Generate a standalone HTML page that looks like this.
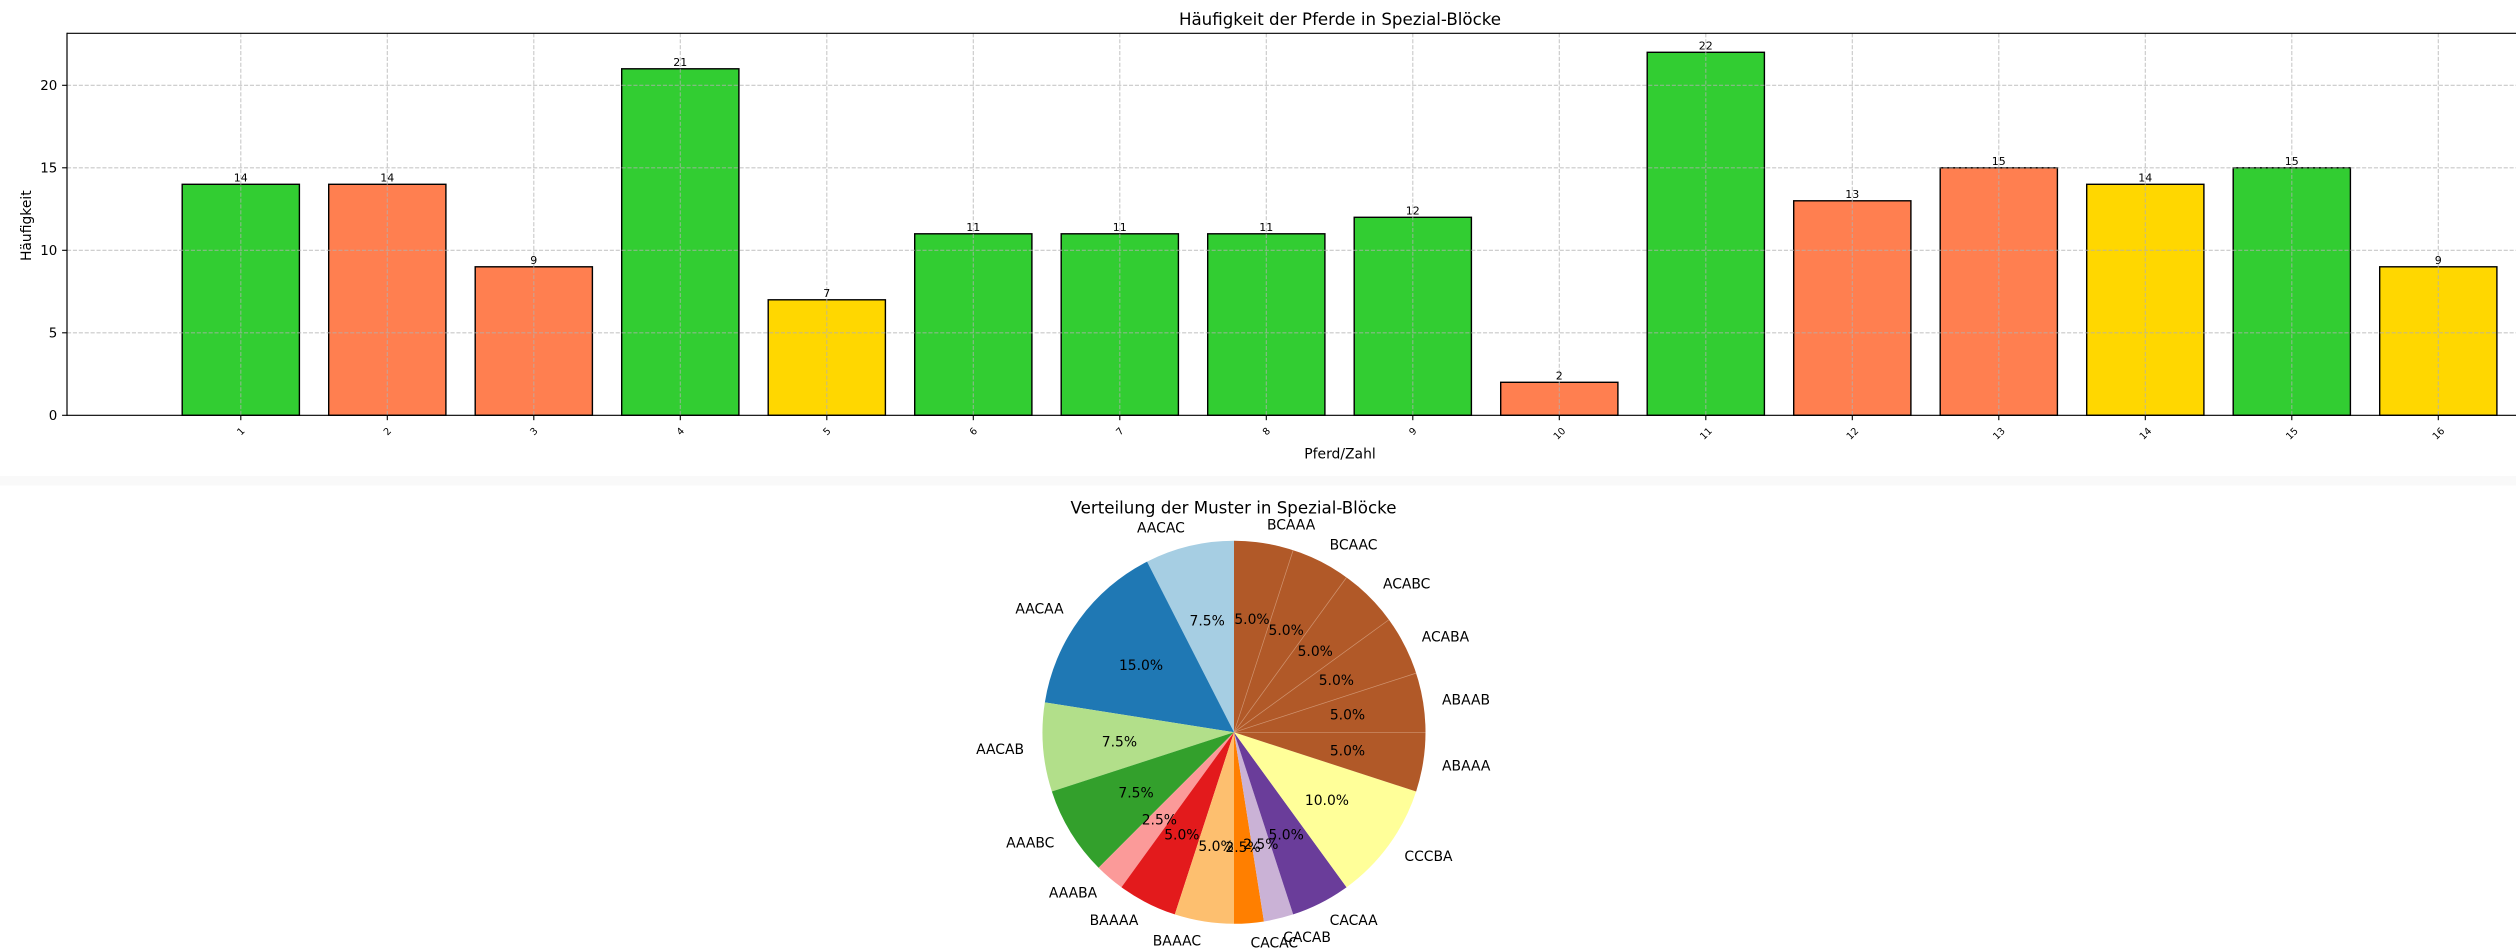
<!DOCTYPE html>
<html>
<head>
<meta charset="utf-8">
<style>
html,body{margin:0;padding:0;background:#fff;}
svg{display:block;}
text{font-family:"DejaVu Sans","Liberation Sans",sans-serif;fill:#000;}
</style>
</head>
<body>
<svg width="2516" height="952" viewBox="0 0 2516 952" xmlns="http://www.w3.org/2000/svg">
<rect x="0" y="0" width="2516" height="952" fill="#fff"/>
<rect x="0" y="476" width="2516" height="9.5" fill="#f9f9f9"/>

<!-- Bar chart title -->
<text x="1340" y="24.8" font-size="16.67" text-anchor="middle">Häufigkeit der Pferde in Spezial-Blöcke</text>

<!-- Bars -->
<g stroke="#000" stroke-width="1.4">
<rect x="182.2" y="184.3" width="117.2" height="231" fill="#32cd32"/>
<rect x="328.7" y="184.3" width="117.2" height="231" fill="#ff7f50"/>
<rect x="475.2" y="266.8" width="117.2" height="148.5" fill="#ff7f50"/>
<rect x="621.7" y="68.8" width="117.2" height="346.5" fill="#32cd32"/>
<rect x="768.2" y="299.8" width="117.2" height="115.5" fill="#ffd700"/>
<rect x="914.7" y="233.8" width="117.2" height="181.5" fill="#32cd32"/>
<rect x="1061.2" y="233.8" width="117.2" height="181.5" fill="#32cd32"/>
<rect x="1207.7" y="233.8" width="117.2" height="181.5" fill="#32cd32"/>
<rect x="1354.2" y="217.3" width="117.2" height="198" fill="#32cd32"/>
<rect x="1500.7" y="382.3" width="117.2" height="33" fill="#ff7f50"/>
<rect x="1647.2" y="52.3" width="117.2" height="363" fill="#32cd32"/>
<rect x="1793.7" y="200.8" width="117.2" height="214.5" fill="#ff7f50"/>
<rect x="1940.2" y="167.8" width="117.2" height="247.5" fill="#ff7f50"/>
<rect x="2086.7" y="184.3" width="117.2" height="231" fill="#ffd700"/>
<rect x="2233.2" y="167.8" width="117.2" height="247.5" fill="#32cd32"/>
<rect x="2379.7" y="266.8" width="117.2" height="148.5" fill="#ffd700"/>
</g>

<!-- Grid -->
<g stroke="#b0b0b0" stroke-opacity="0.7" stroke-width="1.1" stroke-dasharray="4.1,1.8" fill="none">
<line x1="67" y1="332.8" x2="2516" y2="332.8"/>
<line x1="67" y1="250.3" x2="2516" y2="250.3"/>
<line x1="67" y1="167.8" x2="2516" y2="167.8"/>
<line x1="67" y1="85.3" x2="2516" y2="85.3"/>
<line x1="240.8" y1="33.3" x2="240.8" y2="415.3"/>
<line x1="387.3" y1="33.3" x2="387.3" y2="415.3"/>
<line x1="533.8" y1="33.3" x2="533.8" y2="415.3"/>
<line x1="680.3" y1="33.3" x2="680.3" y2="415.3"/>
<line x1="826.8" y1="33.3" x2="826.8" y2="415.3"/>
<line x1="973.3" y1="33.3" x2="973.3" y2="415.3"/>
<line x1="1119.8" y1="33.3" x2="1119.8" y2="415.3"/>
<line x1="1266.3" y1="33.3" x2="1266.3" y2="415.3"/>
<line x1="1412.8" y1="33.3" x2="1412.8" y2="415.3"/>
<line x1="1559.3" y1="33.3" x2="1559.3" y2="415.3"/>
<line x1="1705.8" y1="33.3" x2="1705.8" y2="415.3"/>
<line x1="1852.3" y1="33.3" x2="1852.3" y2="415.3"/>
<line x1="1998.8" y1="33.3" x2="1998.8" y2="415.3"/>
<line x1="2145.3" y1="33.3" x2="2145.3" y2="415.3"/>
<line x1="2291.8" y1="33.3" x2="2291.8" y2="415.3"/>
<line x1="2438.3" y1="33.3" x2="2438.3" y2="415.3"/>
</g>

<!-- Value labels -->
<g font-size="11" text-anchor="middle">
<text x="240.8" y="181.5">14</text>
<text x="387.3" y="181.5">14</text>
<text x="533.8" y="264">9</text>
<text x="680.3" y="66">21</text>
<text x="826.8" y="297">7</text>
<text x="973.3" y="231">11</text>
<text x="1119.8" y="231">11</text>
<text x="1266.3" y="231">11</text>
<text x="1412.8" y="214.5">12</text>
<text x="1559.3" y="379.5">2</text>
<text x="1705.8" y="49.5">22</text>
<text x="1852.3" y="198">13</text>
<text x="1998.8" y="165">15</text>
<text x="2145.3" y="181.5">14</text>
<text x="2291.8" y="165">15</text>
<text x="2438.3" y="264">9</text>
</g>

<!-- Spines -->
<g stroke="#000" stroke-width="1.2" fill="none">
<line x1="67" y1="33.3" x2="2516" y2="33.3"/>
<line x1="67" y1="415.3" x2="2516" y2="415.3"/>
<line x1="67" y1="32.7" x2="67" y2="415.9"/>
</g>

<!-- Ticks -->
<g stroke="#000" stroke-width="1.1">
<line x1="62.1" y1="415.3" x2="67" y2="415.3"/>
<line x1="62.1" y1="332.8" x2="67" y2="332.8"/>
<line x1="62.1" y1="250.3" x2="67" y2="250.3"/>
<line x1="62.1" y1="167.8" x2="67" y2="167.8"/>
<line x1="62.1" y1="85.3" x2="67" y2="85.3"/>
<line x1="240.8" y1="415.3" x2="240.8" y2="420.2"/>
<line x1="387.3" y1="415.3" x2="387.3" y2="420.2"/>
<line x1="533.8" y1="415.3" x2="533.8" y2="420.2"/>
<line x1="680.3" y1="415.3" x2="680.3" y2="420.2"/>
<line x1="826.8" y1="415.3" x2="826.8" y2="420.2"/>
<line x1="973.3" y1="415.3" x2="973.3" y2="420.2"/>
<line x1="1119.8" y1="415.3" x2="1119.8" y2="420.2"/>
<line x1="1266.3" y1="415.3" x2="1266.3" y2="420.2"/>
<line x1="1412.8" y1="415.3" x2="1412.8" y2="420.2"/>
<line x1="1559.3" y1="415.3" x2="1559.3" y2="420.2"/>
<line x1="1705.8" y1="415.3" x2="1705.8" y2="420.2"/>
<line x1="1852.3" y1="415.3" x2="1852.3" y2="420.2"/>
<line x1="1998.8" y1="415.3" x2="1998.8" y2="420.2"/>
<line x1="2145.3" y1="415.3" x2="2145.3" y2="420.2"/>
<line x1="2291.8" y1="415.3" x2="2291.8" y2="420.2"/>
<line x1="2438.3" y1="415.3" x2="2438.3" y2="420.2"/>
</g>

<!-- Y tick labels -->
<g font-size="13.4" text-anchor="end">
<text x="57.3" y="420.2">0</text>
<text x="57.3" y="337.7">5</text>
<text x="57.3" y="255.2">10</text>
<text x="57.3" y="172.7">15</text>
<text x="57.3" y="90.2">20</text>
</g>

<!-- X tick labels (rotated 45) -->
<g font-size="9.7" text-anchor="middle">
<text transform="translate(240.8,431.3) rotate(-45)" y="3.4">1</text>
<text transform="translate(387.3,431.3) rotate(-45)" y="3.4">2</text>
<text transform="translate(533.8,431.3) rotate(-45)" y="3.4">3</text>
<text transform="translate(680.3,431.3) rotate(-45)" y="3.4">4</text>
<text transform="translate(826.8,431.3) rotate(-45)" y="3.4">5</text>
<text transform="translate(973.3,431.3) rotate(-45)" y="3.4">6</text>
<text transform="translate(1119.8,431.3) rotate(-45)" y="3.4">7</text>
<text transform="translate(1266.3,431.3) rotate(-45)" y="3.4">8</text>
<text transform="translate(1412.8,431.3) rotate(-45)" y="3.4">9</text>
<text transform="translate(1559.3,433.5) rotate(-45)" y="3.4">10</text>
<text transform="translate(1705.8,433.5) rotate(-45)" y="3.4">11</text>
<text transform="translate(1852.3,433.5) rotate(-45)" y="3.4">12</text>
<text transform="translate(1998.8,433.5) rotate(-45)" y="3.4">13</text>
<text transform="translate(2145.3,433.5) rotate(-45)" y="3.4">14</text>
<text transform="translate(2291.8,433.5) rotate(-45)" y="3.4">15</text>
<text transform="translate(2438.3,433.5) rotate(-45)" y="3.4">16</text>
</g>

<!-- Axis labels -->
<text x="1340" y="458.5" font-size="13.9" text-anchor="middle">Pferd/Zahl</text>
<text transform="translate(31,225.7) rotate(-90)" font-size="13.9" text-anchor="middle">Häufigkeit</text>

<!-- Pie title -->
<text x="1233.5" y="513.3" font-size="16.67" text-anchor="middle">Verteilung der Muster in Spezial-Blöcke</text>

<!-- Pie wedges -->
<g>
<path d="M1234,732.3 L1234,540.8 A191.5,191.5 0 0 0 1147.06,561.67 Z" fill="#a6cee3"/>
<path d="M1234,732.3 L1147.06,561.67 A191.5,191.5 0 0 0 1044.86,702.34 Z" fill="#1f78b4"/>
<path d="M1234,732.3 L1044.86,702.34 A191.5,191.5 0 0 0 1051.87,791.48 Z" fill="#b2df8a"/>
<path d="M1234,732.3 L1051.87,791.48 A191.5,191.5 0 0 0 1098.59,867.71 Z" fill="#33a02c"/>
<path d="M1234,732.3 L1098.59,867.71 A191.5,191.5 0 0 0 1121.44,887.23 Z" fill="#fb9a99"/>
<path d="M1234,732.3 L1121.44,887.23 A191.5,191.5 0 0 0 1174.82,914.43 Z" fill="#e31a1c"/>
<path d="M1234,732.3 L1174.82,914.43 A191.5,191.5 0 0 0 1234,923.8 Z" fill="#fdbf6f"/>
<path d="M1234,732.3 L1234,923.8 A191.5,191.5 0 0 0 1263.96,921.44 Z" fill="#ff7f00"/>
<path d="M1234,732.3 L1263.96,921.44 A191.5,191.5 0 0 0 1293.18,914.43 Z" fill="#cab2d6"/>
<path d="M1234,732.3 L1293.18,914.43 A191.5,191.5 0 0 0 1346.56,887.23 Z" fill="#6a3d9a"/>
<path d="M1234,732.3 L1346.56,887.23 A191.5,191.5 0 0 0 1416.13,791.48 Z" fill="#ffff99"/>
<path d="M1234,732.3 L1416.13,791.48 A191.5,191.5 0 0 0 1234,540.8 Z" fill="#b15928"/>
</g>
<g stroke="#d8a382" stroke-width="0.7" stroke-opacity="0.8">
<line x1="1234" y1="732.3" x2="1425.5" y2="732.3"/>
<line x1="1234" y1="732.3" x2="1416.13" y2="673.12"/>
<line x1="1234" y1="732.3" x2="1388.93" y2="619.74"/>
<line x1="1234" y1="732.3" x2="1346.56" y2="577.37"/>
<line x1="1234" y1="732.3" x2="1293.18" y2="550.17"/>
</g>

<!-- Pie percentages -->
<g font-size="13.9" text-anchor="middle">
<text x="1207.18" y="625.6">7.5%</text>
<text x="1141.04" y="669.8">15.0%</text>
<text x="1119.45" y="746.4">7.5%</text>
<text x="1136.03" y="797.4">7.5%</text>
<text x="1159.38" y="824.7">2.5%</text>
<text x="1181.84" y="839.7">5.0%</text>
<text x="1216.03" y="850.8">5.0%</text>
<text x="1243.01" y="851.9">2.5%</text>
<text x="1260.82" y="849.1">2.5%</text>
<text x="1286.16" y="839.7">5.0%</text>
<text x="1326.96" y="804.9">10.0%</text>
<text x="1347.49" y="755.3">5.0%</text>
<text x="1347.49" y="719.4">5.0%</text>
<text x="1336.38" y="685.2">5.0%</text>
<text x="1315.25" y="656.1">5.0%</text>
<text x="1286.16" y="635">5.0%</text>
<text x="1251.97" y="623.9">5.0%</text>
</g>

<!-- Pie labels -->
<g font-size="13.9">
<text x="1184.82" y="532.5" text-anchor="end">AACAC</text>
<text x="1063.58" y="613.5" text-anchor="end">AACAA</text>
<text x="1024.0" y="753.9" text-anchor="end">AACAB</text>
<text x="1054.39" y="847.4" text-anchor="end">AAABC</text>
<text x="1097.19" y="897.5" text-anchor="end">AAABA</text>
<text x="1138.37" y="925" text-anchor="end">BAAAA</text>
<text x="1201.05" y="945.4" text-anchor="end">BAAAC</text>
<text x="1250.53" y="947.3">CACAC</text>
<text x="1283.18" y="942.2">CACAB</text>
<text x="1329.63" y="925">CACAA</text>
<text x="1404.42" y="861.2">CCCBA</text>
<text x="1442.06" y="770.3">ABAAA</text>
<text x="1442.06" y="704.4">ABAAB</text>
<text x="1421.69" y="641.7">ACABA</text>
<text x="1382.95" y="588.4">ACABC</text>
<text x="1329.63" y="549.6">BCAAC</text>
<text x="1266.95" y="529.3">BCAAA</text>
</g>
</svg>
</body>
</html>
